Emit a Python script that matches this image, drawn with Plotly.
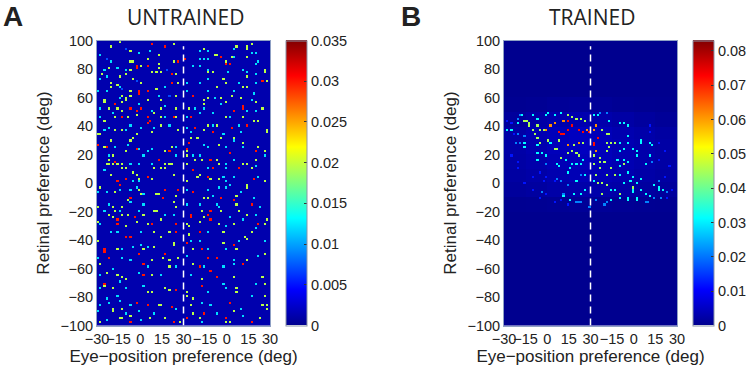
import numpy as np
import plotly.graph_objects as go

W, H = 750, 368
eye_ticks = [-30, -15, 0, 15, 30, 45, 60, 75, 90]
eye_labels = ["−30", "−15", "0", "15", "30", "−15", "0", "15", "30"]
ret_ticks = [-100, -80, -60, -40, -20, 0, 20, 40, 60, 80, 100]
ret_labels = ["−100", "−80", "−60", "−40", "−20", "0", "20", "40", "60", "80", "100"]
cb_a_vals = [0, 0.005, 0.01, 0.015, 0.02, 0.025, 0.03, 0.035]
cb_a_text = ["0", "0.005", "0.01", "0.015", "0.02", "0.025", "0.03", "0.035"]
cb_b_vals = [0, 0.01, 0.02, 0.03, 0.04, 0.05, 0.06, 0.07, 0.08]
cb_b_text = ["0", "0.01", "0.02", "0.03", "0.04", "0.05", "0.06", "0.07", "0.08"]

# Panel A: specks, (eye, retinal) grouped by colour level
a_levels = dict(red=0.030, warm=0.0195, cyan=0.012, blue=0.007)
a_background = 0.0012
a_red = [(9,98),(17,96),(-2,83),(-2,81),(5,82),(27,86),(22,77),(22,70),(0,65),(5,65),(-1,63),(-17,56),(-7,52),(-2,51),(1,53),(-13,47),(6,47),(7,44),(23,46),(6,42),
(31,87),(57,88),(60,84),(63,84),(85,72),(37,62),(71,54),(72,52),(66,51),(35,47),(75,41),(39,39),(64,39),(50,36),
(-29,27),(-23,25),(-2,24),(20,22),(-17,15),(13,17),(6,4),(-9,3),(-15,1),(-14,-1),(18,-5),(27,-4),(-7,-10),(16,-10),(-16,-25),(-3,-24),(9,-28),(-15,-28),(25,-28),
(34,29),(32,24),(63,21),(80,22),(49,17),(37,9),(51,11),(69,10),(48,4),(79,3),(37,-6),(66,-12),(56,-10),(78,-15),(36,-22),(49,-19),(48,-23),(49,-26),(35,-24),(82,-28),
(-9,-37),(-7,-37),(25,-35),(-25,-47),(-24,-48),(0,-49),(18,-50),(-21,-53),(2,-57),(-24,-70),(3,-65),(25,-75),(-2,-84),(6,-85),(22,-87),(-7,-97),(24,-97),
(41,-35),(33,-42),(65,-43),(43,-46),(47,-53),(53,-53),(42,-59),(49,-62),(71,-57),(53,-66),(43,-72),(62,-84),(45,-91),(33,-95),(60,-95),(77,-97)]
a_warm = [(-20,96),(-14,99),(23,98),(-7,93),(13,90),(-7,86),(-5,85),(6,87),(13,84),(23,85),(-21,81),(1,82),(13,81),(14,78),(9,78),(12,78),(-7,79),(-26,77),(-10,76),(-14,75),(25,77),(27,71),(-5,73),(1,71),(-20,70),(-20,67),(-15,69),(11,66),(-7,65),(-13,61),(-9,60),(-12,57),(-10,58),(-7,61),(6,58),(14,59),(25,61),(-25,59),(-25,57),(-16,52),(-21,53),(-12,51),(10,50),(14,53),(25,52),(-25,44),(-17,46),(-8,47),(-2,48),(15,47),(25,47),(14,41),(-13,37),(-17,37),(-30,34),(-27,34),(27,38),(8,36),(-2,34),
(44,95),(67,96),(74,96),(78,98),(74,94),(52,90),(54,90),(60,85),(64,88),(74,89),(47,78),(51,78),(87,79),(86,78),(75,75),(58,73),(59,71),(88,72),(71,68),(74,68),(53,67),(64,61),(44,58),(45,56),(48,60),(56,60),(70,60),(60,57),(81,57),(34,53),(85,52),(59,47),(71,46),(79,44),(82,43),(53,41),(47,40),(44,37),(88,38),(88,36),
(-20,30),(-7,30),(-5,31),(-25,25),(-9,22),(17,23),(22,26),(-18,20),(-21,16),(-16,13),(-18,13),(-21,13),(-23,13),(-13,13),(-13,10),(-10,10),(17,13),(20,13),(22,13),(17,10),(10,11),(14,11),(-20,6),(-5,7),(-2,6),(8,3),(24,6),(0,3),(-27,-3),(-17,-6),(0,-5),(1,-7),(13,-8),(12,-8),(25,-9),(-8,-12),(23,-13),(25,-16),(-29,-16),(-18,-16),(-17,-19),(-13,-16),(12,-19),(10,-19),(-21,-23),(-18,-24),(-13,-23),(3,-23),(-8,-23),(14,-26),(-30,-27),(-10,-30),(6,-29),(-2,-27),
(35,31),(40,31),(65,31),(57,32),(32,23),(55,27),(71,29),(82,25),(87,23),(32,19),(53,17),(80,17),(38,16),(43,16),(55,13),(71,13),(75,13),(33,13),(77,10),(41,6),(40,5),(49,3),(32,1),(55,3),(86,1),(75,-2),(74,-3),(67,-9),(44,-11),(48,-10),(67,-15),(43,-19),(57,-19),(69,-19),(75,-22),(44,-24),(41,-27),(33,-28),(34,-30),(55,-28),(66,-29),(86,-28),(88,-26),
(10,-35),(15,-38),(20,-35),(-29,-40),(-15,-47),(10,-45),(23,-44),(24,-42),(3,-47),(-27,-57),(9,-54),(16,-53),(20,-54),(27,-53),(20,-59),(-23,-63),(-16,-64),(-12,-66),(-9,-67),(9,-65),(-24,-72),(-18,-73),(17,-74),(21,-75),(6,-77),(8,-76),(13,-86),(15,-86),(-13,-88),(-14,-94),(-12,-94),(-6,-93),(7,-95),(-27,-98),(17,-95),(28,-97),(-19,-88),(-19,-90),
(34,-36),(58,-35),(73,-37),(74,-39),(78,-35),(58,-42),(37,-47),(67,-46),(75,-54),(86,-49),(37,-57),(65,-66),(66,-66),(85,-66),(86,-70),(43,-68),(32,-77),(33,-79),(67,-74),(37,-81),(67,-77),(86,-80),(35,-85),(85,-85),(88,-88),(88,-85),(37,-91),(66,-90),(41,-95),(62,-98),(59,-98),(84,-95)]
a_cyan = [(-27,90),(-1,91),(7,93),(-20,86),(-16,81),(-10,79),(-24,79),(-23,75),(-27,73),(-14,67),(17,68),(-23,65),(-29,64),(-14,60),(0,56),(13,61),(-28,53),(-18,50),(8,51),(18,54),(-27,46),(18,47),(1,39),(-7,40),(-10,37),(-21,39),(-25,38),(20,40),(10,39),
(41,93),(47,93),(66,94),(41,87),(45,87),(47,87),(66,88),(78,92),(81,92),(82,85),(81,84),(37,83),(48,79),(61,78),(71,80),(75,78),(80,77),(42,82),(48,74),(41,71),(32,71),(69,70),(80,70),(32,65),(48,64),(65,64),(52,60),(57,56),(79,63),(77,58),(38,52),(45,52),(80,51),(75,51),(33,47),(42,50),(51,49),(63,47),(69,41),(50,41),(32,39),(35,36),(58,35),(70,36),
(-17,26),(-8,27),(8,24),(0,24),(25,25),(-22,20),(-7,13),(3,20),(5,22),(8,13),(25,19),(0,13),(-25,9),(-5,2),(-1,2),(-29,-6),(-23,-6),(-14,-4),(-7,-5),(-2,-3),(3,-8),(-6,-14),(-30,-17),(-21,-15),(-25,-19),(-14,-19),(3,-15),(0,-19),(17,-23),(23,-22),(-27,-29),
(66,30),(44,27),(47,26),(60,25),(72,26),(86,19),(37,19),(42,19),(66,16),(59,13),(80,12),(47,11),(59,10),(58,4),(65,5),(82,4),(60,1),(59,-3),(62,-2),(33,-4),(48,-5),(55,-3),(70,-6),(79,-10),(50,-9),(32,-15),(41,-15),(53,-15),(84,-17),(55,-17),(62,-24),(80,-23),(71,-26),(80,-31),(60,-30),
(-20,-35),(-15,-35),(1,-35),(-12,-46),(1,-43),(6,-45),(-5,-45),(-30,-53),(-12,-53),(-6,-54),(6,-58),(25,-58),(-27,-64),(-18,-60),(-14,-69),(0,-63),(15,-64),(-10,-73),(2,-72),(-28,-74),(-23,-81),(-16,-80),(-14,-83),(-21,-84),(-27,-86),(-29,-90),(-7,-86),(25,-88),(-10,-92),(-1,-90),(10,-91),(1,-96),(-23,-96),
(48,-35),(36,-40),(42,-40),(69,-40),(86,-40),(48,-47),(60,-47),(32,-51),(66,-54),(82,-51),(44,-58),(58,-59),(65,-57),(35,-65),(58,-70),(47,-76),(59,-74),(81,-70),(43,-84),(77,-79),(49,-86),(70,-88),(53,-92),(43,-97),(72,-93)]
a_blue = [(-10,94),(-23,87),(19,79),(-2,72),(-12,66),(20,61)]

# Panel B: specks, by colour level
b_levels = dict(red=0.072, orange=0.061, warm=0.045, cyan=0.031, blue=0.021, faint=0.012)
b_red = [(14,44),(17,40),(15,38),(9,36),(10,35),(12,34),(22,38),(25,36),(30,36),(35,31),(33,29),(32,27)]
b_orange = [(6,42),(2,40),(0,38),(12,44),(28,37),(15,27),(22,28),(34,41),(32,38),(34,23)]
b_warm = [(-15,43),(-13,42),(-12,40),(-14,44),(-10,38),(-7,40),(14,48),(17,47),(21,45),(24,45),(27,44),(-2,37),(-5,37),(-9,37),(-8,34),(-7,31),(-5,29),(1,30),(9,30),(19,27),(25,29),(5,24),(7,24),(17,22),(20,21),(22,20),(14,21),(10,18),(22,19),
(39,38),(42,35),(43,34),(41,28),(45,29),(47,28),(43,26),(41,22),(37,18),(40,15),(37,15),(32,20),(33,14),(53,13),(45,10),(37,10),(41,6),(34,6),(48,6),(35,0),(39,0),(42,-1),(39,-8),(51,-7),(38,-7),(60,-3)]
b_cyan = [(-17,48),(-20,42),(-9,48),(-7,45),(-1,48),(1,49),(6,48),(10,49),(-24,38),(-27,38),(-15,28),(-16,26),(-7,27),(-6,27),(3,28),(-7,21),(-3,21),(-7,17),(-7,16),(-1,20),(13,17),(7,14),(9,12),(17,14),(21,13),(24,14),(16,10),(27,6),(15,8),(21,2),(16,-12),(25,17),
(32,48),(35,48),(43,43),(50,42),(53,42),(57,40),(51,29),(56,33),(56,29),(53,24),(51,22),(49,17),(53,17),(57,15),(60,24),(63,22),(65,30),(66,29),(71,28),(73,27),(71,19),(63,19),(69,14),(50,12),(51,6),(57,7),(60,4),(66,3),(32,1),(47,-4),(58,2),(62,0),(53,0),(59,-5),(44,-12),(51,-11),(56,-11),(62,-12),(66,-5),(69,-7),(75,-2),(78,-4),(80,-4),
(12,-9),(19,-7),(23,-7),(26,-5),(45,-5),(59,-6),(66,-5),(72,-9),(78,-3),(56,-12),(63,-11)]
b_blue = [(-20,45),(-18,48),(-20,34),(-15,33),(-18,29),(-22,29),(0,13),(24,6),(7,3),(10,1),(15,-1),(12,-8),(20,-13),(24,-13),(37,49),(41,49),(74,-10),(77,1),(73,15),(70,-13),(34,-12),(40,-15),
(-3,-6),(79,-10),(22,-14),(29,-16),(42,-14),(68,-13),(84,-6)]
b_faint = [(-27,44),(-25,42),(-23,34),(-5,7),(0,4),(-2,1),(5,2),(85,12),(82,4),(86,-5),(84,-10),(71,36),(72,40),(78,28),(82,23),(78,16),
(-10,5),(-15,0),(-20,10),(-25,20),(-20,15),(-10,-5),(-5,-10),(0,-8),(5,-14),(10,-12),(15,-15)]

# Faint glow behind the specks of panel B, read by 15-degree eye band
b_glow_eye_edges = [-30, -15, 0, 15, 30, 45, 60, 75, 90]
b_glow_ret_edges = [-20, -10, 0, 10, 20, 30, 40, 50, 60]
b_glow = [
    [0.0003, 0.0004, 0.0006, 0.0007, 0.0007, 0.0006, 0.0004, 0.0003],
    [0.0012, 0.0016, 0.0022, 0.0025, 0.0025, 0.0022, 0.0016, 0.0012],
    [0.0018, 0.0022, 0.0030, 0.0035, 0.0035, 0.0030, 0.0022, 0.0018],
    [0.0020, 0.0026, 0.0035, 0.0040, 0.0040, 0.0032, 0.0026, 0.0020],
    [0.0022, 0.0030, 0.0040, 0.0045, 0.0040, 0.0032, 0.0026, 0.0020],
    [0.0022, 0.0032, 0.0040, 0.0045, 0.0038, 0.0030, 0.0024, 0.0018],
    [0.0012, 0.0020, 0.0028, 0.0030, 0.0026, 0.0020, 0.0014, 0.0008],
    [0.0003, 0.0005, 0.0008, 0.0010, 0.0008, 0.0005, 0.0003, 0.0002],
]

eye_centers = np.arange(-29.25, 90, 1.5)
ret_centers = np.arange(-99.25, 100, 1.5)


def grid(groups, base=0.0):
    z = np.full((len(ret_centers), len(eye_centers)), float(base))
    for pts, val in groups:
        for e, r in pts:
            i = int(np.argmin(np.abs(ret_centers - r)))
            j = int(np.argmin(np.abs(eye_centers - e)))
            z[i, j] = max(z[i, j], val)
    return z


z_a = grid([(a_red, a_levels["red"]), (a_warm, a_levels["warm"]),
            (a_cyan, a_levels["cyan"]), (a_blue, a_levels["blue"])], a_background)

z_b = grid([(b_red, b_levels["red"]), (b_orange, b_levels["orange"]),
            (b_warm, b_levels["warm"]), (b_cyan, b_levels["cyan"]),
            (b_blue, b_levels["blue"]), (b_faint, b_levels["faint"])])
for ri in range(len(b_glow_ret_edges) - 1):
    for ei in range(len(b_glow_eye_edges) - 1):
        mask_r = (ret_centers >= b_glow_ret_edges[ri]) & (ret_centers < b_glow_ret_edges[ri + 1])
        mask_e = (eye_centers >= b_glow_eye_edges[ei]) & (eye_centers < b_glow_eye_edges[ei + 1])
        sub = np.ix_(mask_r, mask_e)
        z_b[sub] = np.maximum(z_b[sub], b_glow[ri][ei])

jet = [[0, "#00008f"], [0.125, "#0000ff"], [0.375, "#00ffff"], [0.625, "#ffff00"],
       [0.875, "#ff0000"], [1, "#800000"]]

FONT = "Liberation Sans"
INK = "#222222"


def colorbar(px, vals, text):
    return dict(x=px / W, xanchor="left", xpad=0, thickness=21, thicknessmode="pixels",
                len=285, lenmode="pixels", y=1 - 40.5 / H, yanchor="top", ypad=0,
                tickvals=vals, ticktext=text, ticks="inside", ticklen=3, tickcolor="#333",
                outlinecolor="#8a93a8", outlinewidth=1,
                tickfont=dict(family=FONT, size=14.5, color=INK))


fig = go.Figure()
fig.add_trace(go.Heatmap(x=eye_centers, y=ret_centers, z=z_a, coloraxis="coloraxis",
                         xaxis="x", yaxis="y", zsmooth=False))
fig.add_trace(go.Heatmap(x=eye_centers, y=ret_centers, z=z_b, coloraxis="coloraxis2",
                         xaxis="x2", yaxis="y2", zsmooth=False))


def xaxis(left, right, anchor):
    return dict(domain=[left / W, right / W], range=[-30, 90], anchor=anchor,
                tickvals=eye_ticks, ticktext=eye_labels, tickangle=0, ticks="",
                showgrid=False, zeroline=False, showline=True, mirror=True,
                linecolor="#8fa0c4", linewidth=1,
                tickfont=dict(family=FONT, size=14.5, color=INK),
                title=dict(text="Eye−position preference (deg)", standoff=3,
                           font=dict(family=FONT, size=17, color=INK)))


def yaxis(anchor):
    return dict(domain=[1 - 325.5 / H, 1 - 40.5 / H], range=[-100, 100], anchor=anchor,
                tickvals=ret_ticks, ticktext=ret_labels, ticks="",
                showgrid=False, zeroline=False, showline=True, mirror=True,
                linecolor="#8fa0c4", linewidth=1,
                tickfont=dict(family=FONT, size=14.5, color=INK),
                title=dict(text="Retinal preference (deg)", standoff=6,
                           font=dict(family=FONT, size=17, color=INK)))


divider = dict(type="line", y0=-100, y1=96, x0=30, x1=30,
               line=dict(color="white", width=1.5, dash="7px,5px"))


def label(text, px, py, family, size):
    return dict(text=text, x=px / W, y=1 - py / H, xref="paper", yref="paper",
                xanchor="center", yanchor="middle", showarrow=False,
                font=dict(family=family, size=size, color=INK))


fig.update_layout(
    width=W, height=H, margin=dict(l=0, r=0, t=0, b=0, autoexpand=False),
    paper_bgcolor="white", plot_bgcolor="#00008f", showlegend=False,
    xaxis=xaxis(97, 270, "y"), yaxis=yaxis("x"),
    xaxis2=xaxis(504, 677, "y2"), yaxis2=yaxis("x2"),
    coloraxis=dict(colorscale=jet, cmin=0, cmax=0.035,
                   colorbar=colorbar(286, cb_a_vals, cb_a_text)),
    coloraxis2=dict(colorscale=jet, cmin=0, cmax=0.083,
                    colorbar=colorbar(693, cb_b_vals, cb_b_text)),
    shapes=[dict(divider, xref="x", yref="y"), dict(divider, xref="x2", yref="y2")],
    annotations=[
        label("UNTRAINED", 186, 16.5, "Open Sans", 21),
        label("TRAINED", 592, 16.5, "Open Sans", 21),
        label("<b>A</b>", 13, 16.5, FONT, 28),
        label("<b>B</b>", 411, 16.5, FONT, 28),
    ],
)
fig.write_html("out.html", post_script="document.body.style.margin='0';",
               config=dict(displayModeBar=False))
